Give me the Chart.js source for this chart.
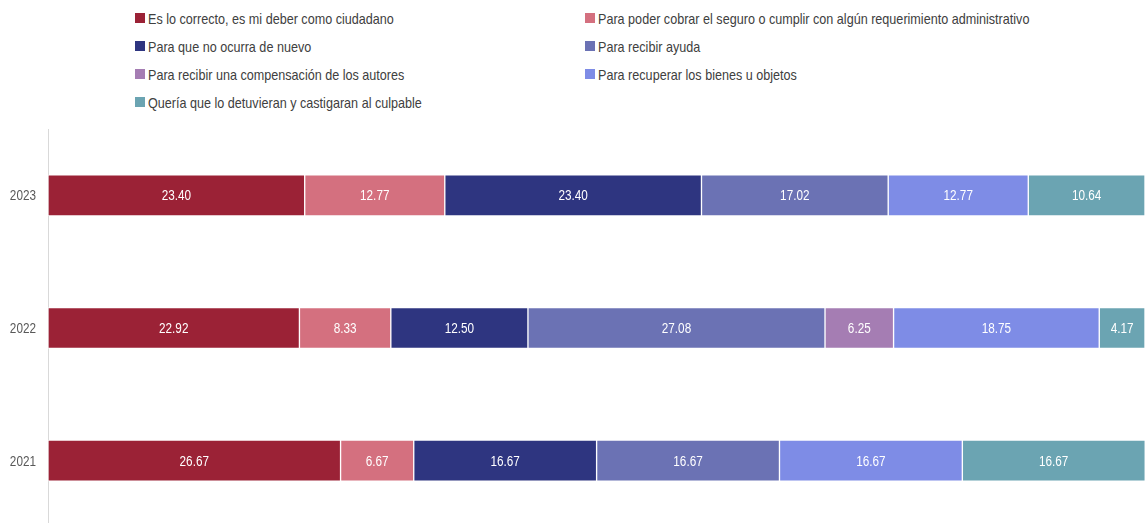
<!DOCTYPE html>
<html>
<head>
<meta charset="utf-8">
<script src="https://cdn.jsdelivr.net/npm/chart.js@4"></script>
<style>
    html, body { margin: 0; padding: 0; background: #fff; overflow: hidden; }
    body { width: 1145px; height: 523px; position: relative; font-family: "Liberation Sans", Arial, sans-serif; }
    #legend { position: absolute; left: 135px; top: 4px; width: 1000px; display: grid; grid-template-columns: 450px 450px; }
    .item { height: 28px; display: flex; align-items: center; font-size: 15px; color: #404040; white-space: nowrap; }
    .box { width: 10px; height: 10px; margin-right: 3px; flex: none; }
    .txt { display: inline-block; transform: scaleX(0.84); transform-origin: left center; }
    #wrap { position: absolute; left: 0; top: 0; width: 1145px; height: 527px; }
</style>
</head>
<body>
<div id="legend"></div>
<div id="wrap"><canvas id="chart"></canvas></div>
<script>
// 年份
const years = ['2023', '2022', '2021'];

// 各原因
const reasons = [
    'Es lo correcto, es mi deber como ciudadano',
    'Para poder cobrar el seguro o cumplir con algún requerimiento administrativo',
    'Para que no ocurra de nuevo',
    'Para recibir ayuda',
    'Para recibir una compensación de los autores',
    'Para recuperar los bienes u objetos',
    'Quería que lo detuvieran y castigaran al culpable'
];

const colors = ['#9b2236', '#d4707f', '#2e3580', '#6b72b4', '#a57db3', '#7e8ce6', '#6ba4b2'];

// 每个原因的数值 (2023, 2022, 2021)
const deber = [23.40, 22.92, 26.67];
const seguro = [12.77, 8.33, 6.67];
const noOcurra = [23.40, 12.50, 16.67];
const ayuda = [17.02, 27.08, 16.67];
const compensacion = [0, 6.25, 0];
const recuperar = [12.77, 18.75, 16.67];
const castigar = [10.64, 4.17, 16.67];

const seriesValues = [deber, seguro, noOcurra, ayuda, compensacion, recuperar, castigar];

// 图例
const legendEl = document.getElementById('legend');
reasons.forEach((name, i) => {
    const div = document.createElement('div');
    div.className = 'item';
    div.innerHTML = '<span class="box" style="background:' + colors[i] + '"></span><span class="txt">' + name + '</span>';
    legendEl.appendChild(div);
});

const SQUEEZE = 0.84;

// 压缩文字宽度
function narrowText(ctx, text, x, y, align) {
    ctx.save();
    ctx.translate(x, y);
    ctx.scale(SQUEEZE, 1);
    ctx.textAlign = align;
    ctx.fillText(text, 0, 0);
    ctx.restore();
}

// 数值标签和年份标签
const valueLabels = {
    id: 'valueLabels',
    afterDatasetsDraw(chart) {
        const ctx = chart.ctx;
        ctx.save();
        ctx.textBaseline = 'middle';
        ctx.fillStyle = '#ffffff';
        ctx.font = '14px "Liberation Sans", Arial, sans-serif';
        chart.data.datasets.forEach((ds, i) => {
            const meta = chart.getDatasetMeta(i);
            meta.data.forEach((bar, j) => {
                const v = ds.data[j];
                if (!v) return;
                const right = Math.min(bar.x, chart.chartArea.right);
                narrowText(ctx, v.toFixed(2), (bar.base + right) / 2, bar.y + 1, 'center');
            });
        });
        const yScale = chart.scales.y;
        ctx.fillStyle = '#595959';
        ctx.font = '14px "Liberation Sans", Arial, sans-serif';
        chart.data.labels.forEach((label, j) => {
            narrowText(ctx, label, 36, yScale.getPixelForValue(j) + 1, 'right');
        });
        ctx.restore();
    }
};

const ctx = document.getElementById('chart').getContext('2d');
new Chart(ctx, {
    type: 'bar',
    data: {
        labels: years,
        datasets: reasons.map((name, i) => ({
            label: name,
            data: seriesValues[i],
            backgroundColor: colors[i],
            borderColor: 'rgba(255,255,255,0.7)',
            borderWidth: 1,
            borderSkipped: false,
            barThickness: 41
        }))
    },
    options: {
        indexAxis: 'y',
        responsive: true,
        maintainAspectRatio: false,
        animation: false,
        layout: { padding: { top: 129, right: 0, left: 0, bottom: 0 } },
        scales: {
            x: {
                stacked: true,
                min: 0,
                max: 100,
                display: false
            },
            y: {
                stacked: true,
                grid: { display: false },
                border: { display: true, color: '#d9d9d9', width: 1 },
                ticks: { display: false },
                afterFit(scale) { scale.width = 48; }
            }
        },
        plugins: {
            legend: { display: false },
            tooltip: { enabled: false }
        }
    },
    plugins: [valueLabels]
});
</script>
</body>
</html>
